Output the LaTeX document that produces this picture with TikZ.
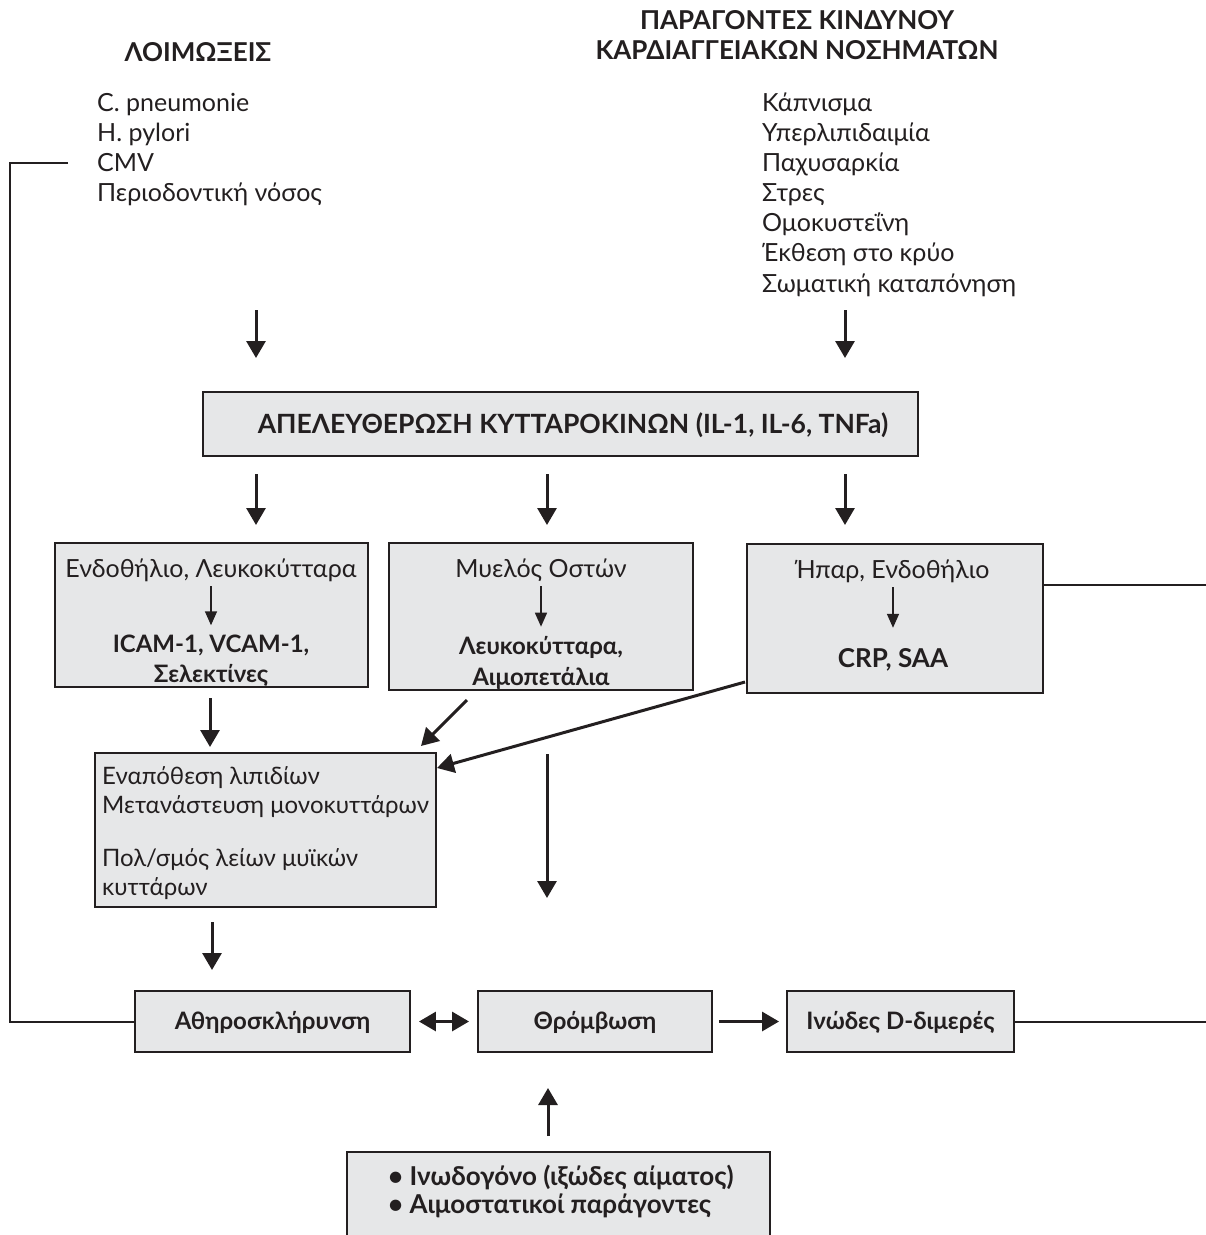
\documentclass[tikz,border=0pt]{standalone}
\usepackage{fontspec}
\setmainfont{Lato}
\usetikzlibrary{arrows.meta}
\definecolor{boxgray}{HTML}{E6E7E8}
\definecolor{ink}{HTML}{231F20}
\begin{document}
\begin{tikzpicture}[x=1pt,y=-1pt,
  box/.style={draw=ink, line width=1.9pt, fill=boxgray, inner sep=0pt},
  reg/.style={inner sep=0pt, anchor=base, text=ink, font=\fontsize{25}{30}\selectfont},
  regw/.style={reg, anchor=base west},
  regs/.style={regw, font=\fontsize{24}{30}\selectfont},
  bld/.style={inner sep=0pt, anchor=base, text=ink, font=\bfseries\fontsize{24}{30}\selectfont},
  bldc/.style={bld, font=\bfseries\fontsize{26}{30}\selectfont},
  bldw/.style={bldc, anchor=base west},
  arr/.style={draw=ink, line width=3pt, -{Triangle[width=19pt,length=17pt]}},
  darr/.style={draw=ink, line width=3pt, {Triangle[width=19pt,length=17pt]}-{Triangle[width=19pt,length=17pt]}},
  iarr/.style={draw=ink, line width=1.6pt, -{Triangle[width=12pt,length=14pt]}},
  fline/.style={draw=ink, line width=2pt}]
\useasboundingbox (0,0) rectangle (1206,1235);
\clip (0,0) rectangle (1206,1235);

% headers
\node[bldc] (hL) at (198,61) {ΛΟΙΜΩΞΕΙΣ};
\node[bldc] (hR1) at (797,29) {ΠΑΡΑΓΟΝΤΕΣ ΚΙΝΔΥΝΟΥ};
\node[bldc] (hR2) at (797,59) {ΚΑΡΔΙΑΓΓΕΙΑΚΩΝ ΝΟΣΗΜΑΤΩΝ};

% left list
\node[regw] (l1) at (97,111) {C. pneumonie};
\node[regw] (l2) at (97,141) {H. pylori};
\node[regw] (l3) at (97,171) {CMV};
\node[regw] (l4) at (97,201) {Περιοδοντική νόσος};

% right list
\node[regw] (r1) at (762,111) {Κάπνισμα};
\node[regw] (r2) at (762,141) {Υπερλιπιδαιμία};
\node[regw] (r3) at (762,171) {Παχυσαρκία};
\node[regw] (r4) at (762,201) {Στρες};
\node[regw] (r5) at (762,231) {Ομοκυστεΐνη};
\node[regw] (r6) at (762,261) {Έκθεση στο κρύο};
\node[regw] (r7) at (762,292) {Σωματική καταπόνηση};

% main box
\node[box, minimum width=715pt, minimum height=64pt] (main) at (560.5,424) {};
\node[bld, font=\bfseries\fontsize{26.5}{30}\selectfont] (mainT) at (573,433.5) {ΑΠΕΛΕΥΘΕΡΩΣΗ ΚΥΤΤΑΡΟΚΙΝΩΝ (IL-1, IL-6, TNFa)};

% three boxes
\node[box, minimum width=313pt, minimum height=144pt] (b1) at (211.5,615) {};
\node[reg] (b1t) at (211,577) {Ενδοθήλιο, Λευκοκύτταρα};
\node[bld] (b1b) at (211,652) {ICAM-1, VCAM-1,};
\node[bld] (b1c) at (211,682) {Σελεκτίνες};

\node[box, minimum width=304pt, minimum height=147pt] (b2) at (541,616.5) {};
\node[reg] (b2t) at (541,577) {Μυελός Οστών};
\node[bld] (b2b) at (541,654) {Λευκοκύτταρα,};
\node[bld] (b2c) at (541,685) {Αιμοπετάλια};

\node[box, minimum width=296pt, minimum height=149pt] (b3) at (895,618.5) {};
\node[reg] (b3t) at (893,578) {Ήπαρ, Ενδοθήλιο};
\node[bldc] (b3b) at (893,667) {CRP, SAA};

% box 4
\node[box, minimum width=341pt, minimum height=154pt] (b4) at (265.5,830) {};
\node[regs] (b4a) at (102,784) {Εναπόθεση λιπιδίων};
\node[regs] (b4b) at (102,813) {Μετανάστευση μονοκυττάρων};
\node[regs] (b4c) at (102,866) {Πολ/σμός λείων μυϊκών};
\node[regs] (b4d) at (102,895) {κυττάρων};

% bottom row
\node[box, minimum width=275pt, minimum height=61pt] (b5) at (272.5,1021.5) {};
\node[bld] (b5t) at (272.5,1029) {Αθηροσκλήρυνση};
\node[box, minimum width=234pt, minimum height=61pt] (b6) at (595,1021.5) {};
\node[bld] (b6t) at (595,1029) {Θρόμβωση};
\node[box, minimum width=227pt, minimum height=61pt] (b7) at (900.5,1021.5) {};
\node[bld] (b7t) at (900.5,1029) {Ινώδες D-διμερές};

% box 8 (cut off at bottom)
\node[box, minimum width=423pt, minimum height=120pt] (b8) at (558.5,1212) {};
\node[bldw] (b8a) at (388,1185) {• Ινωδογόνο (ιξώδες αίματος)};
\node[bldw] (b8b) at (388,1213) {• Αιμοστατικοί παράγοντες};

% coordinates for free arrows
\coordinate (a1s) at (256,310); \coordinate (a1e) at (256,358);
\coordinate (a2s) at (845,310); \coordinate (a2e) at (845,358);
\coordinate (a3s) at (256,474); \coordinate (a3e) at (256,525);
\coordinate (a4s) at (547,474); \coordinate (a4e) at (547,525);
\coordinate (a5s) at (845,474); \coordinate (a5e) at (845,525);
\coordinate (a6s) at (210,698); \coordinate (a6e) at (210,747);
\coordinate (a7s) at (467,700); \coordinate (a7e) at (421,746);
\coordinate (a8s) at (745,682); \coordinate (a8e) at (437,768);
\coordinate (a9s) at (547,754); \coordinate (a9e) at (547,898);
\coordinate (a10s) at (212,922); \coordinate (a10e) at (212,970);
\coordinate (a11s) at (548,1136); \coordinate (a11e) at (548,1088);

\foreach \i in {1,...,11} \draw[arr] (a\i s) -- (a\i e);

% internal arrows
\draw[iarr, shorten <=5pt, shorten >=9pt] (b1t.south) -- (b1b.north);
\draw[iarr, shorten <=5pt, shorten >=9pt] (b2t.south) -- (b2b.north);
\draw[iarr, shorten <=5pt, shorten >=20pt] (b3t.south) -- (b3b.north);

% bottom row arrows
\draw[darr, shorten <=8pt, shorten >=8pt] (b5.east) -- (b6.west);
\draw[arr, shorten <=6pt, shorten >=7pt] (b6.east) -- (b7.west);

% feedback lines
\coordinate (fb1) at (68,163); \coordinate (fb2) at (10,163);
\draw[fline] (fb1) -- (fb2) |- (b5.west);
\coordinate (rr1) at (1206,585);
\draw[fline] (b3.east |- rr1) -- (rr1);
\coordinate (rr2) at (1206,1021.5);
\draw[fline] (b7.east) -- (rr2);
\end{tikzpicture}
\end{document}
